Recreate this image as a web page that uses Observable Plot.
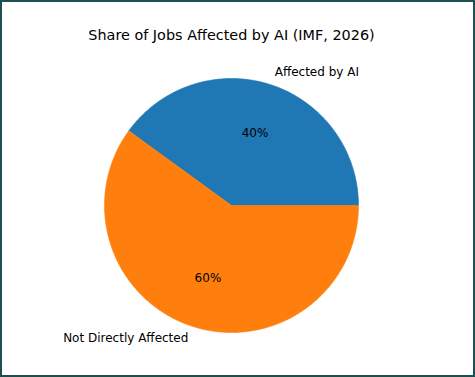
<!DOCTYPE html>
<html>
<head>
<meta charset="utf-8">
<script src="https://cdn.jsdelivr.net/npm/d3@7"></script>
<script src="https://cdn.jsdelivr.net/npm/@observablehq/plot@0.6"></script>
<style>
  html, body { margin: 0; padding: 0; background: #fff; }
  #wrap { width: 475px; height: 377px; box-sizing: border-box; border: 2px solid #1e4f50; overflow: hidden; }
  #wrap svg { display: block; }
</style>
</head>
<body>
<div id="wrap"></div>
<script>
const title = "Share of Jobs Affected by AI (IMF, 2026)";
const categories = ["Affected by AI", "Not Directly Affected"];
const values = [40, 60];
const colors = ["#1f77b4", "#ff7f0e"];

const W = 471, H = 373, cx = 229, cy = 203, R = 127;

// Build slices (start at 0 rad, counterclockwise, like matplotlib)
const total = d3.sum(values);
let acc = 0;
const slices = categories.map((c, i) => {
  const a0 = acc / total * 2 * Math.PI;
  acc += values[i];
  const a1 = acc / total * 2 * Math.PI;
  const pts = [{x: 0, y: 0}];
  const n = Math.max(2, Math.ceil((a1 - a0) / (Math.PI / 360)));
  for (let k = 0; k <= n; k++) {
    const a = a0 + (a1 - a0) * k / n;
    pts.push({x: Math.cos(a), y: Math.sin(a)});
  }
  pts.push({x: 0, y: 0});
  const mid = (a0 + a1) / 2;
  return {cat: c, value: values[i], color: colors[i], pts, mid};
});

const labels = slices.map(s => ({
  text: s.cat,
  x: 1.1 * Math.cos(s.mid),
  y: 1.1 * Math.sin(s.mid),
  anchor: Math.cos(s.mid) >= 0 ? "start" : "end"
}));
const pcts = slices.map(s => ({
  text: (s.value / total * 100).toFixed(0) + "%",
  x: 0.6 * Math.cos(s.mid),
  y: 0.6 * Math.sin(s.mid)
}));

const font = "DejaVu Sans, sans-serif";

const chart = Plot.plot({
  width: W,
  height: H,
  margin: 0,
  x: {domain: [-cx / R, (W - cx) / R], axis: null},
  y: {domain: [(cy - H) / R, cy / R], axis: null},
  style: {fontFamily: font, background: "#fff"},
  marks: [
    ...slices.map(s => Plot.line(s.pts, {x: "x", y: "y", fill: s.color, stroke: s.color, strokeWidth: 0.6, curve: "linear"})),
    Plot.text(labels.filter(d => d.anchor === "start"), {x: "x", y: "y", text: "text", textAnchor: "start", lineAnchor: "middle", fontSize: 12, fill: "#000"}),
    Plot.text(labels.filter(d => d.anchor === "end"), {x: "x", y: "y", text: "text", textAnchor: "end", lineAnchor: "middle", fontSize: 12, fill: "#000"}),
    Plot.text(pcts, {x: "x", y: "y", text: "text", textAnchor: "middle", lineAnchor: "middle", fontSize: 12, fill: "#000"}),
    Plot.text([title], {x: () => 0, y: () => (cy - 33) / R, text: d => d, textAnchor: "middle", lineAnchor: "middle", fontSize: 14.4, fill: "#000"})
  ]
});
document.getElementById("wrap").appendChild(chart);
</script>
</body>
</html>
